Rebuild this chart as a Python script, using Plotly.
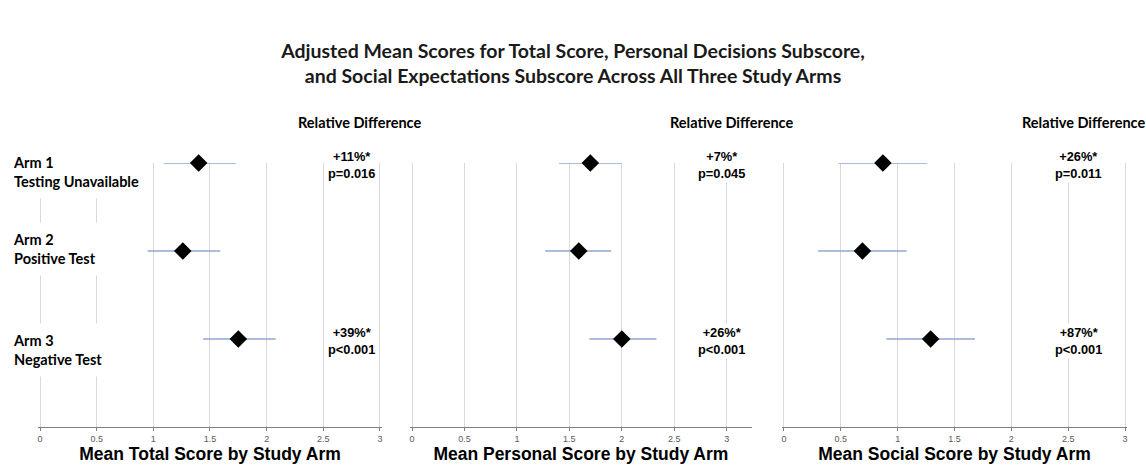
import plotly.graph_objects as go

# ---- data ----
arm_names = ["Arm 1", "Arm 2", "Arm 3"]
arm_desc = ["Testing Unavailable", "Positive Test", "Negative Test"]

total_mean = [1.40, 1.26, 1.75]
total_lo = [1.09, 0.95, 1.44]
total_hi = [1.73, 1.59, 2.08]
total_rel = ["+11%*", "", "+39%*"]
total_p = ["p=0.016", "", "p<0.001"]

personal_mean = [1.70, 1.59, 2.00]
personal_lo = [1.40, 1.27, 1.69]
personal_hi = [2.00, 1.90, 2.33]
personal_rel = ["+7%*", "", "+26%*"]
personal_p = ["p=0.045", "", "p<0.001"]

social_mean = [0.87, 0.69, 1.29]
social_lo = [0.48, 0.30, 0.90]
social_hi = [1.26, 1.08, 1.68]
social_rel = ["+26%*", "", "+87%*"]
social_p = ["p=0.011", "", "p<0.001"]

x_ticks = [0, 0.5, 1, 1.5, 2, 2.5, 3]
x_ticklabels = ["0", "0.5", "1", "1.5", "2", "2.5", "3"]

axis_titles = ["Mean Total Score by Study Arm",
               "Mean Personal Score by Study Arm",
               "Mean Social Score by Study Arm"]
title_text = ("Adjusted Mean Scores for Total Score, Personal Decisions Subscore,<br>"
              "and Social Expectations Subscore Across All Three Study Arms")
header_text = "Relative Difference"

# ---- layout constants (pixels) ----
W, H = 1146, 465
def px(x):
    return x / W
def py(y):
    return 1 - y / H

plot_top, plot_bottom = 163, 427
EPS = 0.02
panels = [
    dict(mean=total_mean, lo=total_lo, hi=total_hi, rel=total_rel, p=total_p,
         x0=40, scale=113.33, xmax=3.02, text_x=351, head_x=359),
    dict(mean=personal_mean, lo=personal_lo, hi=personal_hi, rel=personal_rel, p=personal_p,
         x0=412, scale=104.9, xmax=3.24, text_x=721, head_x=731),
    dict(mean=social_mean, lo=social_lo, hi=social_hi, rel=social_rel, p=social_p,
         x0=784, scale=113.67, xmax=3.02, text_x=1078, head_x=1083),
]

n = len(arm_names)
y_pos = list(range(n, 0, -1))  # arm 1 on top

fig = go.Figure()
annotations = []
CAL = "Lato, 'Open Sans', sans-serif"
ARIAL = "Liberation Sans, Arial, sans-serif"

for i, pnl in enumerate(panels):
    xa = "x" if i == 0 else f"x{i+1}"
    ya = "y" if i == 0 else f"y{i+1}"
    fig.add_trace(go.Scatter(
        x=pnl["mean"], y=y_pos, xaxis=xa, yaxis=ya, mode="markers",
        marker=dict(symbol="diamond", size=13.5, color="black"),
        error_x=dict(type="data", symmetric=False,
                     array=[h - m for h, m in zip(pnl["hi"], pnl["mean"])],
                     arrayminus=[m - l for m, l in zip(pnl["mean"], pnl["lo"])],
                     color="#8ea9cf", thickness=1.5, width=0),
        cliponaxis=False, showlegend=False, hoverinfo="x+y",
    ))
    lay_x = "xaxis" if i == 0 else f"xaxis{i+1}"
    lay_y = "yaxis" if i == 0 else f"yaxis{i+1}"
    d0 = pnl["x0"] - EPS * pnl["scale"]
    d1 = pnl["x0"] + pnl["xmax"] * pnl["scale"]
    fig.update_layout(**{
        lay_x: dict(domain=[px(d0), px(d1)], range=[-EPS, pnl["xmax"]],
                    tickvals=x_ticks, ticktext=x_ticklabels,
                    tickfont=dict(family=ARIAL, size=9, color="#595959"),
                    showgrid=True, gridcolor="#d9d9d9", gridwidth=1,
                    zeroline=False, showline=True, linecolor="#808080", linewidth=1,
                    ticks="outside", ticklen=3, tickcolor="#808080",
                    anchor=ya, automargin=False, fixedrange=True,
                    title=dict(text=f"<b>{axis_titles[i]}</b>", standoff=0,
                               font=dict(family=ARIAL, size=17.5, color="black"))),
        lay_y: dict(domain=[py(plot_bottom), py(plot_top)], range=[0, n],
                    showgrid=False, zeroline=False, showticklabels=False,
                    showline=False, anchor=xa, automargin=False, fixedrange=True),
    })
    # header
    annotations.append(dict(text=f"<b>{header_text}</b>", xref="paper", yref="paper",
                            x=px(pnl["head_x"]), y=py(122), showarrow=False,
                            xanchor="center", yanchor="middle",
                            font=dict(family=CAL, size=14.5, color="black")))
    # relative differences
    for k in range(n):
        if pnl["rel"][k]:
            annotations.append(dict(
                text=f"<b>{pnl['rel'][k]}<br>{pnl['p'][k]}</b>",
                xref="paper", yref=ya, x=px(pnl["text_x"]), y=y_pos[k],
                showarrow=False, xanchor="center", yanchor="middle",
                align="center", bgcolor="white", borderpad=1, yshift=-2,
                font=dict(family=ARIAL, size=12.8, color="black")))

# arm labels
label_shift = [-9, 2, -11]
for k in range(n):
    annotations.append(dict(
        text=f"<b>{arm_names[k]}<br>{arm_desc[k]}</b>",
        xref="paper", yref="y", x=px(4), y=y_pos[k], yshift=label_shift[k],
        showarrow=False, xanchor="left", yanchor="middle", align="left",
        bgcolor="white", borderpad=8,
        font=dict(family=CAL, size=14.5, color="black")))

fig.update_layout(
    width=W, height=H, autosize=False,
    margin=dict(l=0, r=0, t=0, b=0),
    paper_bgcolor="white", plot_bgcolor="white",
    title=dict(text=f"<b>{title_text}</b>", x=0.5, xanchor="center",
               y=py(58), yanchor="middle",
               font=dict(family=CAL, size=19.5, color="#1a1a1a")),
    annotations=annotations,
)

fig.write_html("out.html", config={"displayModeBar": False},
               post_script="document.body.style.margin='0';document.body.style.padding='0';")
